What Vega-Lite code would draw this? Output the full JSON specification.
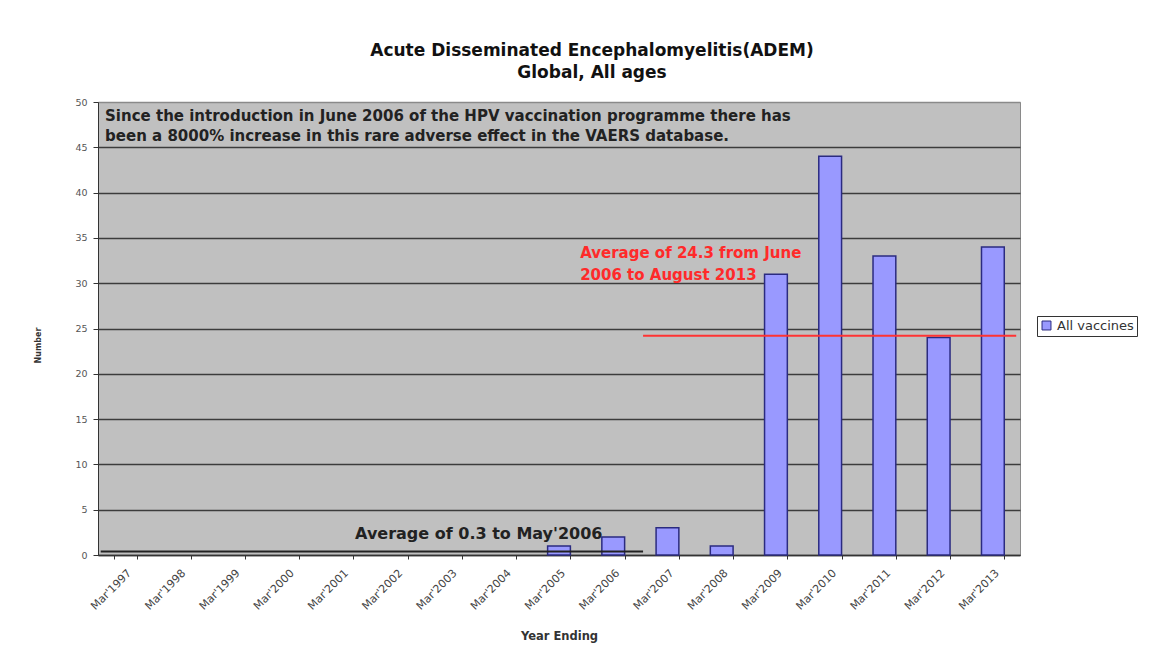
{
  "$schema": "https://vega.github.io/schema/vega-lite/v6.json",
  "width": 922,
  "height": 453,
  "autosize": {"type": "none"},
  "padding": {"left": 98, "top": 102, "right": 140, "bottom": 109},
  "background": "white",
  "title": {
    "text": ["Acute Disseminated Encephalomyelitis(ADEM)", "Global, All ages"],
    "font": "DejaVu Sans",
    "fontSize": 17,
    "fontWeight": "bold",
    "color": "#111111",
    "lineHeight": 22,
    "dx": 33,
    "offset": 15,
    "anchor": "middle"
  },
  "config": {
    "font": "DejaVu Sans",
    "view": {"fill": "#c0c0c0", "stroke": "#8a8a8a", "strokeWidth": 1}
  },
  "resolve": {"scale": {"x": "independent"}, "axis": {"x": "independent"}},
  "layer": [
    {
      "data": {
        "values": [
          {"year": "Mar'1997", "count": 0, "series": "All vaccines"},
          {"year": "Mar'1998", "count": 0, "series": "All vaccines"},
          {"year": "Mar'1999", "count": 0, "series": "All vaccines"},
          {"year": "Mar'2000", "count": 0, "series": "All vaccines"},
          {"year": "Mar'2001", "count": 0, "series": "All vaccines"},
          {"year": "Mar'2002", "count": 0, "series": "All vaccines"},
          {"year": "Mar'2003", "count": 0, "series": "All vaccines"},
          {"year": "Mar'2004", "count": 0, "series": "All vaccines"},
          {"year": "Mar'2005", "count": 1, "series": "All vaccines"},
          {"year": "Mar'2006", "count": 2, "series": "All vaccines"},
          {"year": "Mar'2007", "count": 3, "series": "All vaccines"},
          {"year": "Mar'2008", "count": 1, "series": "All vaccines"},
          {"year": "Mar'2009", "count": 31, "series": "All vaccines"},
          {"year": "Mar'2010", "count": 44, "series": "All vaccines"},
          {"year": "Mar'2011", "count": 33, "series": "All vaccines"},
          {"year": "Mar'2012", "count": 24, "series": "All vaccines"},
          {"year": "Mar'2013", "count": 34, "series": "All vaccines"}
        ]
      },
      "transform": [{"filter": "datum.count > 0"}],
      "mark": {"type": "bar", "stroke": "#2b2b80", "strokeWidth": 1.5},
      "encoding": {
        "x": {
          "field": "year",
          "type": "nominal",
          "sort": null,
          "scale": {
            "domain": ["Mar'1997", "Mar'1998", "Mar'1999", "Mar'2000", "Mar'2001", "Mar'2002", "Mar'2003", "Mar'2004", "Mar'2005", "Mar'2006", "Mar'2007", "Mar'2008", "Mar'2009", "Mar'2010", "Mar'2011", "Mar'2012", "Mar'2013"],
            "paddingInner": 0.58,
            "paddingOuter": 0.29
          },
          "axis": {
            "title": "Year Ending",
            "titleFontSize": 11.5,
            "titleFontWeight": "bold",
            "titleColor": "#333333",
            "titleBaseline": "middle",
            "titleY": 81,
            "labelAngle": -45,
            "labelFontSize": 11,
            "labelColor": "#444444",
            "labelPadding": 8,
            "domainColor": "#333333",
            "domainWidth": 1.5,
            "tickColor": "#333333",
            "tickBand": "extent",
            "tickSize": 4,
            "grid": false
          }
        },
        "y": {
          "field": "count",
          "type": "quantitative",
          "scale": {"domain": [0, 50], "nice": false},
          "axis": {
            "title": "Number",
            "titleFontSize": 8,
            "titleFontWeight": "bold",
            "titleColor": "#333333",
            "titleX": -56,
            "titleY": 243,
            "titleAngle": -90,
            "values": [0, 5, 10, 15, 20, 25, 30, 35, 40, 45, 50],
            "labelFontSize": 9.5,
            "labelColor": "#555555",
            "labelPadding": 6,
            "domainColor": "#333333",
            "tickColor": "#333333",
            "tickSize": 5,
            "grid": true,
            "gridColor": {"condition": {"test": "datum.value == 50", "value": "#8a8a8a"}, "value": "#3c3c3c"},
            "gridWidth": 1.7
          }
        },
        "color": {
          "field": "series",
          "type": "nominal",
          "scale": {"range": ["#9999ff"]},
          "legend": {
            "orient": "none",
            "legendX": 939,
            "legendY": 214,
            "title": null,
            "strokeColor": "#333333",
            "fillColor": "white",
            "padding": 3,
            "symbolType": "square",
            "symbolSize": 80,
            "symbolStrokeColor": "#2b2b80",
            "symbolStrokeWidth": 1,
            "labelFontSize": 13,
            "labelColor": "#333333"
          }
        }
      }
    },
    {
      "data": {"values": [{"start": 0.05, "end": 10.05, "avg": 0.4}]},
      "mark": {"type": "rule", "color": "#222222", "strokeWidth": 2},
      "encoding": {
        "x": {"field": "start", "type": "quantitative", "scale": {"domain": [0, 17]}, "axis": null},
        "x2": {"field": "end"},
        "y": {"field": "avg", "type": "quantitative"}
      }
    },
    {
      "data": {"values": [{"start": 10.05, "end": 16.93, "avg": 24.2}]},
      "mark": {"type": "rule", "color": "#ff3333", "strokeWidth": 2},
      "encoding": {
        "x": {"field": "start", "type": "quantitative", "scale": {"domain": [0, 17]}, "axis": null},
        "x2": {"field": "end"},
        "y": {"field": "avg", "type": "quantitative"}
      }
    },
    {
      "data": {
        "values": [
          {"px": 0.13, "py": 48.45, "label": "Since the introduction in June 2006 of the HPV vaccination programme there has"},
          {"px": 0.13, "py": 46.25, "label": "been a 8000% increase in this rare adverse effect in the VAERS database."}
        ]
      },
      "mark": {"type": "text", "align": "left", "baseline": "middle", "fontSize": 15, "fontWeight": "bold", "color": "#222222"},
      "encoding": {
        "x": {"field": "px", "type": "quantitative", "scale": {"domain": [0, 17]}, "axis": null},
        "y": {"field": "py", "type": "quantitative"},
        "text": {"field": "label"}
      }
    },
    {
      "data": {
        "values": [
          {"px": 8.89, "py": 33.3, "label": "Average of 24.3  from June"},
          {"px": 8.89, "py": 30.9, "label": "2006 to August 2013"}
        ]
      },
      "mark": {"type": "text", "align": "left", "baseline": "middle", "fontSize": 15, "fontWeight": "bold", "color": "#ff2a2a"},
      "encoding": {
        "x": {"field": "px", "type": "quantitative", "scale": {"domain": [0, 17]}, "axis": null},
        "y": {"field": "py", "type": "quantitative"},
        "text": {"field": "label"}
      }
    },
    {
      "data": {"values": [{"px": 4.74, "py": 2.32, "label": "Average of 0.3 to May'2006"}]},
      "mark": {"type": "text", "align": "left", "baseline": "middle", "fontSize": 16, "fontWeight": "bold", "color": "#222222"},
      "encoding": {
        "x": {"field": "px", "type": "quantitative", "scale": {"domain": [0, 17]}, "axis": null},
        "y": {"field": "py", "type": "quantitative"},
        "text": {"field": "label"}
      }
    }
  ]
}
